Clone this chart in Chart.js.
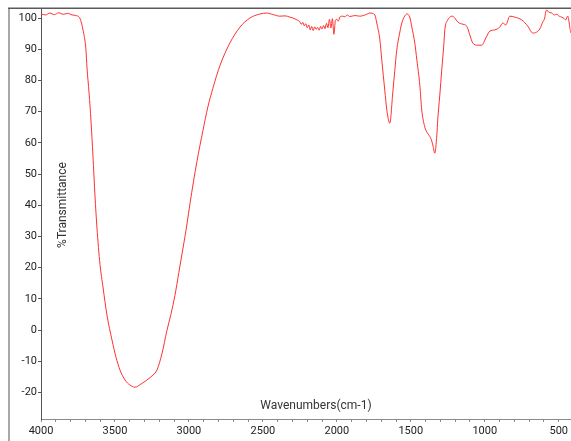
<!DOCTYPE html>
<html>
<head>
<meta charset="utf-8">
<script src="https://cdn.jsdelivr.net/npm/chart.js@4"></script>
<style>
  html, body { margin: 0; padding: 0; background: #fff; }
  canvas { display: block; }
</style>
</head>
<body>
<canvas id="c" width="571" height="441"></canvas>
<script>
// ---- data ----
const wavenumbers = [4000,3970,3940,3910,3880,3850,3820,3790,3764,3736,3716,3696,3689,3675,3662,3649,3635,3622,3601,3581,3554,3520,3493,3466,3432,3399,3365,3324,3284,3243,3216,3182,3149,3122,3095,3068,3041,3013,2993,2946,2905,2872,2838,2790,2723,2655,2588,2520,2473,2430,2385,2350,2318,2290,2270,
  2250,2240,2230,2220,2210,2200,2190,2180,2170,2160,2150,2140,2130,2120,2110,2100,2090,2080,2070,2060,2050,2040,2030,2020,2010,2000,1990,
  1980,1960,1946,1930,1912,1878,1845,1804,1777,1760,1743,1730,1709,1696,1676,1662,1642,1622,1608,1595,1574,1561,1541,1527,1507,1493,1473,1459,1439,1426,1405,1392,1378,1365,1351,1338,1324,1318,1304,1291,1277,1270,1250,1236,1216,1203,1182,1155,1122,1101,1081,1047,1020,993,966,932,899,878,858,831,797,750,709,676,649,628,608,595,588,581,568,547,530,514,497,480,465,453,439,426,419];
const transmittance = [101.3,101.0,101.6,101.1,101.7,101.2,101.5,101.0,100.8,99.8,96.2,89.7,84,76,67,56,43,33,21,13.8,4.8,-3.2,-8.7,-12.8,-16,-17.6,-18.3,-17.3,-16,-14.4,-12.8,-7.5,-0.2,5,11,18.5,26,34,40.5,54,64,71.5,77.5,84.8,92,97.1,100,101.3,101.6,101.1,100.6,100.7,100.3,99.9,99.4,
  98.8,98.0,98.6,97.5,98.2,96.9,97.8,96.2,97.3,96.0,97.2,96.4,97.0,96.1,97.3,96.5,97.6,96.6,98.3,96.9,99.6,96.8,99.8,94.8,99.2,99.6,99.0,
  100.3,100.6,100.4,101,100.5,100.8,100.6,101.1,101.6,101.5,101.0,98.4,93,86.5,76.9,70.5,66.3,76,83.3,89.7,95.5,98.4,100.6,101.3,100.3,97.1,92,86.5,78.5,70.5,65,63.5,62.5,61.5,59.3,56.7,62.5,67.3,75.3,83.3,91.3,96.2,99.4,100.3,100.6,100,98.7,98.1,97.4,94.6,92,91.3,91.3,93.6,95.8,96.2,97.1,98.4,97.8,100.6,100.3,99.4,97.4,95.2,95.5,96.5,98.7,100,101.9,102.6,101.9,101.6,101.0,101.2,100.6,100.3,99.9,99.4,100.6,97.4,95.2];

const yTicks = [-20,-10,0,10,20,30,40,50,60,70,80,90,100];
const xTicks = [4000,3900,3800,3700,3600,3500,3400,3300,3200,3100,3000,2900,2800,2700,2600,2500,2400,2300,2200,2100,2000,1900,1800,1700,1600,1500,1400,1300,1200,1100,1000,900,800,700,600,500];
const xTickLabels = ['4000','3500','3000','2500','2000','1500','1000','500'];
const xTitle = 'Wavenumbers(cm-1)';
const yTitle = '%Transmittance';

const points = wavenumbers.map((w, i) => ({ x: w, y: transmittance[i] }));

const frame = {
  id: 'frame',
  beforeDraw(chart) {
    const ctx = chart.ctx;
    ctx.save();
    ctx.fillStyle = '#fff';
    ctx.fillRect(0, 0, chart.width, chart.height);
    ctx.strokeStyle = '#a8a8a8';
    ctx.lineWidth = 2;
    ctx.beginPath(); ctx.moveTo(9, 8); ctx.lineTo(9, chart.height); ctx.stroke();
    ctx.strokeStyle = '#5a5a5a';
    ctx.lineWidth = 1.5;
    ctx.beginPath(); ctx.moveTo(8, 8.25); ctx.lineTo(chart.width, 8.25); ctx.stroke();
    ctx.restore();
  },
  afterDraw(chart) {
    const ctx = chart.ctx, a = chart.chartArea;
    ctx.save();
    ctx.fillStyle = '#333';
    ctx.font = '12px Roboto';
    ctx.textAlign = 'center';
    ctx.textBaseline = 'middle';
    ctx.fillText(xTitle, a.left + (a.right - a.left) * 0.519, a.bottom - 13);
    ctx.translate(a.left + 22, a.top + 196);
    ctx.rotate(-Math.PI / 2);
    ctx.fillText(yTitle, 0, 0);
    ctx.restore();
  }
};

new Chart(document.getElementById('c'), {
  type: 'line',
  data: {
    datasets: [{
      data: points,
      borderColor: '#ff3030',
      borderWidth: 1,
      pointRadius: 0,
      cubicInterpolationMode: 'monotone',
      fill: false
    }]
  },
  options: {
    responsive: false,
    animation: false,
    devicePixelRatio: 1,
    layout: { padding: { left: 0, top: 9, right: 0, bottom: 0 } },
    plugins: { legend: { display: false }, tooltip: { enabled: false }, title: { display: false } },
    scales: {
      x: {
        type: 'linear',
        reverse: true,
        min: 419,
        max: 4000,
        afterBuildTicks: s => { s.ticks = xTicks.map(v => ({ value: v })); },
        afterFit: s => { s.height = 22; },
        grid: { drawOnChartArea: false, drawTicks: true, tickLength: 3, color: '#888' },
        border: { display: true, color: '#8a8a8a', width: 1 },
        ticks: {
          autoSkip: false, maxRotation: 0, minRotation: 0, padding: 3,
          color: '#222',
          font: { family: 'Roboto', size: 11 },
          callback: v => xTickLabels.includes(String(v)) ? String(v) : ''
        }
      },
      y: {
        type: 'linear',
        min: -28.5,
        max: 102.9,
        afterBuildTicks: s => { s.ticks = yTicks.map(v => ({ value: v })); },
        afterFit: s => { s.width = 41; },
        grid: { drawOnChartArea: false, drawTicks: true, tickLength: 3, color: '#555' },
        border: { display: true, color: '#555', width: 1, dash: [1, 1] },
        ticks: { padding: 1, color: '#222', font: { family: 'Roboto', size: 11 } }
      }
    }
  },
  plugins: [frame]
});
</script>
</body>
</html>
